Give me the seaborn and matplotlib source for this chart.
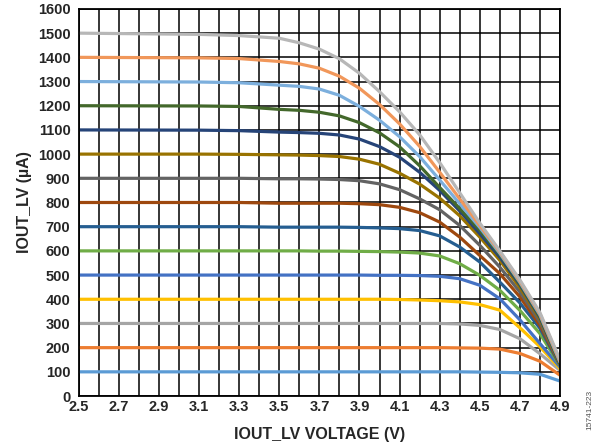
# IOUT_LV current vs output voltage, one trace per programmed current
import numpy as np
import pandas as pd
import seaborn as sb
from matplotlib import pyplot as plt
from matplotlib.ticker import MultipleLocator

VOLTS = [2.5, 3.1, 3.3, 3.5, 3.6, 3.7, 3.8, 3.9, 4.0, 4.1, 4.2, 4.3, 4.4, 4.5, 4.6, 4.7, 4.8, 4.9]

I100 = [100, 100, 100, 100, 100, 100, 100, 100, 100, 100, 100, 100, 100, 99, 98, 96, 90, 62]
I200 = [200, 200, 200, 200, 200, 200, 200, 200, 200, 200, 200, 200, 199, 198, 194, 176, 144, 86]
I300 = [300, 300, 300, 300, 300, 300, 300, 300, 300, 300, 300, 300, 298, 292, 275, 237, 175, 106]
I400 = [400, 400, 400, 400, 400, 400, 400, 400, 400, 399, 397, 394, 389, 378, 355, 282, 204, 113]
I500 = [500, 500, 500, 500, 500, 500, 500, 500, 499, 499, 498, 495, 485, 458, 402, 315, 217, 120]
I600 = [600, 600, 600, 600, 600, 599, 599, 598, 597, 595, 591, 579, 547, 499, 437, 354, 258, 125]
I700 = [700, 700, 700, 698, 698, 698, 698, 697, 695, 692, 684, 662, 616, 554, 471, 385, 280, 128]
I800 = [800, 800, 800, 797, 797, 797, 797, 795, 791, 780, 758, 719, 657, 581, 506, 410, 292, 130]
I900 = [900, 900, 900, 898, 898, 897, 895, 890, 877, 853, 815, 770, 705, 623, 533, 430, 305, 130]
I1000 = [1000, 1000, 999, 997, 996, 994, 990, 979, 958, 921, 876, 818, 745, 657, 561, 448, 318, 132]
I1100 = [1100, 1099, 1097, 1091, 1089, 1086, 1079, 1062, 1031, 987, 925, 850, 765, 671, 574, 460, 325, 135]
I1200 = [1200, 1199, 1197, 1185, 1181, 1173, 1158, 1130, 1088, 1030, 952, 862, 775, 685, 585, 465, 330, 137]
I1300 = [1300, 1298, 1295, 1285, 1280, 1269, 1243, 1197, 1140, 1072, 990, 893, 795, 697, 590, 470, 335, 140]
I1400 = [1400, 1398, 1395, 1383, 1373, 1355, 1322, 1272, 1205, 1125, 1032, 925, 815, 705, 596, 475, 340, 145]
I1500 = [1500, 1495, 1490, 1479, 1460, 1434, 1394, 1334, 1258, 1175, 1080, 965, 840, 715, 600, 480, 345, 150]

SERIES = {100: I100, 200: I200, 300: I300, 400: I400, 500: I500, 600: I600, 700: I700,
          800: I800, 900: I900, 1000: I1000, 1100: I1100, 1200: I1200, 1300: I1300,
          1400: I1400, 1500: I1500}

COLORS = ["#5B9BD5", "#ED7D31", "#A5A5A5", "#FFC000", "#4472C4", "#70AD47", "#255E91",
          "#9E480E", "#636363", "#997300", "#264478", "#43682B", "#7CAFDD", "#F1975A",
          "#B7B7B7"]

rows = []
for level, vals in SERIES.items():
    for v, i in zip(VOLTS, vals):
        rows.append({"level": level, "volts": v, "iout": i})
df = pd.DataFrame(rows)

sb.set_style("white")
plt.rcParams['font.family'] = ['Liberation Sans', 'DejaVu Sans']

fig = plt.figure(figsize=(5.97, 4.48), dpi=100)
ax = fig.add_axes([0.132, 0.116, 0.806, 0.864])

sb.lineplot(data=df, x="volts", y="iout", hue="level", palette=COLORS, sort=False,
            linewidth=2.3, legend=False, ax=ax)

ax.set_xlim(2.5, 4.9)
ax.set_ylim(0, 1600)
ax.xaxis.set_minor_locator(MultipleLocator(0.1))
ax.yaxis.set_major_locator(MultipleLocator(100))
ax.grid(True, which="both", color="black", linewidth=1.1)
ax.set_axisbelow(True)
ax.tick_params(which="both", length=0, labelsize=10.5)
ax.tick_params(axis="y", pad=6)
ax.tick_params(axis="x", pad=3)
xt = np.round(np.arange(2.5, 4.91, 0.2), 1)
ax.set_xticks(xt)
ax.set_xticklabels([f"{t:.1f}" for t in xt], fontweight="bold")
for lab in ax.get_yticklabels():
    lab.set_fontweight("bold")
for sp in ax.spines.values():
    sp.set_color("black")
    sp.set_linewidth(1.3)

ax.set_xlabel("IOUT_LV VOLTAGE (V)", fontsize=11.5, fontweight="bold", labelpad=9)
ax.set_ylabel("IOUT_LV (µA)", fontsize=11.5, fontweight="bold", labelpad=4)

fig.text(0.988, 0.04, "15741-223", rotation=90, fontsize=6, color="#555555",
         ha="center", va="bottom")

plt.savefig("out.png", dpi=100)
